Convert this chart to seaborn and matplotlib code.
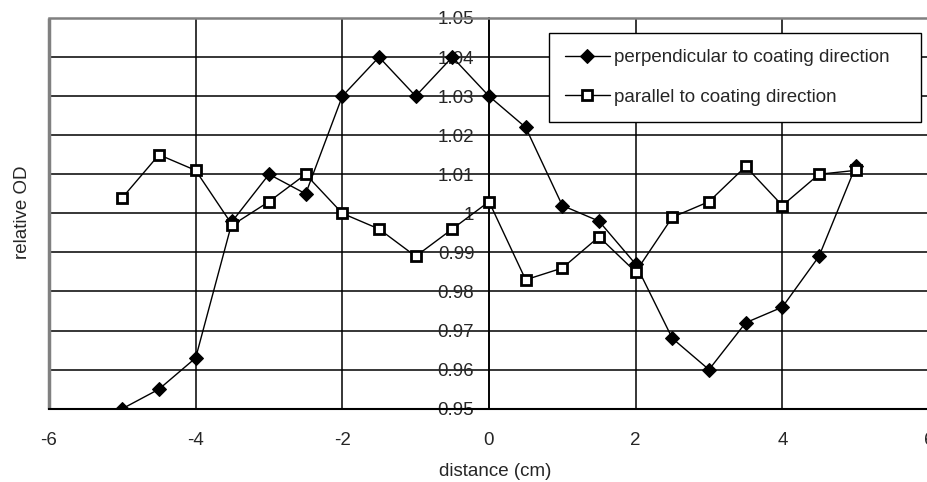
import matplotlib
matplotlib.use("Agg")
import matplotlib.pyplot as plt
import matplotlib.ticker as mticker
from matplotlib.patches import Rectangle
import seaborn as sns
import pandas as pd

distance = [-5, -4.5, -4, -3.5, -3, -2.5, -2, -1.5, -1, -0.5, 0,
            0.5, 1, 1.5, 2, 2.5, 3, 3.5, 4, 4.5, 5]
perpendicular = [0.950, 0.955, 0.963, 0.998, 1.010, 1.005, 1.030, 1.040, 1.030, 1.040, 1.030,
                 1.022, 1.002, 0.998, 0.987, 0.968, 0.960, 0.972, 0.976, 0.989, 1.012]
parallel = [1.004, 1.015, 1.011, 0.997, 1.003, 1.010, 1.000, 0.996, 0.989, 0.996, 1.003,
            0.983, 0.986, 0.994, 0.985, 0.999, 1.003, 1.012, 1.002, 1.010, 1.011]
labels = ["perpendicular to coating direction", "parallel to coating direction"]
x_ticks = [-6, -4, -2, 0, 2, 4, 6]
y_ticks = [0.95, 0.96, 0.97, 0.98, 0.99, 1.00, 1.01, 1.02, 1.03, 1.04, 1.05]

sns.set_theme(style="white")
plt.rcParams['font.family'] = ['Liberation Sans', 'DejaVu Sans']
FS = 13.5

fig = plt.figure(figsize=(9.28, 4.82), dpi=100)
ax = fig.add_axes([49/928, 1 - 408.7/482, 880/928, (408.7 - 18)/482])

df1 = pd.DataFrame({"x": distance, "y": perpendicular})
df2 = pd.DataFrame({"x": distance, "y": parallel})
sns.lineplot(data=df1, x="x", y="y", ax=ax, color="black", lw=1, marker="D",
             markersize=7.3, markerfacecolor="black", markeredgecolor="black",
             label=labels[0], zorder=5)
sns.lineplot(data=df2, x="x", y="y", ax=ax, color="black", lw=1, marker="s",
             markersize=6.8, markerfacecolor="white", markeredgecolor="black",
             markeredgewidth=2, label=labels[1], zorder=6)

ax.set_xlim(-6, 6)
ax.set_ylim(0.95, 1.05)
ax.set_xticks(x_ticks)
ax.set_yticks(y_ticks)
ax.xaxis.set_major_formatter(mticker.FuncFormatter(lambda v, p: f"{v:g}"))
ax.yaxis.set_major_formatter(mticker.FuncFormatter(lambda v, p: f"{v:g}"))

ax.grid(True, color="black", lw=1.1)
ax.set_axisbelow(True)

ax.spines['left'].set_position(('data', 0))
ax.spines['left'].set_color('black')
ax.spines['left'].set_linewidth(1.2)
ax.spines['bottom'].set_color('black')
ax.spines['bottom'].set_linewidth(1.5)
ax.spines['top'].set_color('#808080')
ax.spines['top'].set_linewidth(1.8)
ax.spines['right'].set_color('#808080')
ax.spines['right'].set_linewidth(1.5)
ax.add_patch(Rectangle((0, 0), 0, 1, transform=ax.transAxes, fill=False,
                       edgecolor='#808080', lw=2.5, clip_on=False, zorder=1))

ax.tick_params(axis='both', which='major', direction='out', length=3.6, width=1,
               color='black', labelsize=FS)
ax.tick_params(axis='y', pad=7)
ax.tick_params(axis='x', pad=13)

ax.set_xlabel("distance (cm)", fontsize=FS, va='center')
ax.xaxis.set_label_coords((495 - 49) / 880, (408.7 - 471) / 390.7)
ax.set_ylabel("relative OD", fontsize=FS, va='center', ha='center')
ax.yaxis.set_label_coords((23 - 49) / 880, (408.7 - 212) / 390.7)

leg = ax.legend(loc='upper left', bbox_to_anchor=(500 / 880, (408.7 - 33) / 390.7, 372 / 880, 0),
                mode='expand', borderaxespad=0,
                frameon=True, fancybox=False, fontsize=FS, handlelength=2.4,
                labelspacing=1.2, borderpad=0.85, handletextpad=0.2, numpoints=1)
leg.get_frame().set_edgecolor('black')
leg.get_frame().set_linewidth(1)
leg.get_frame().set_facecolor('white')
leg.get_frame().set_alpha(1)

fig.savefig("out.png", dpi=100)
